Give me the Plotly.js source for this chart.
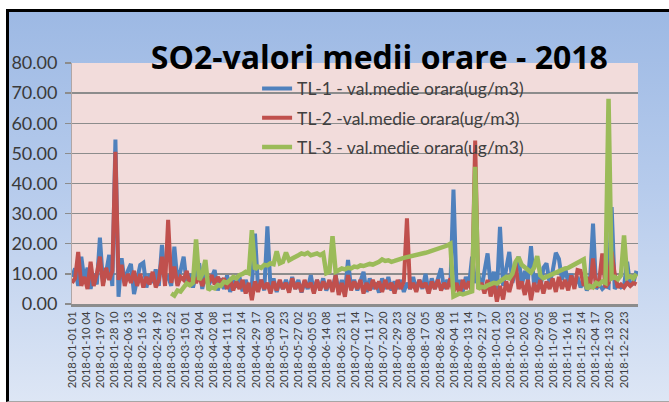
<!DOCTYPE html>
<html>
<head>
<meta charset="utf-8">
<script src="https://cdn.plot.ly/plotly-3.0.1.min.js"></script>
<style>
  html, body { margin: 0; padding: 0; background: #ffffff; }
  #wrap { position: relative; width: 669px; height: 402px; overflow: hidden; }
  #frame { position: absolute; left: 6px; top: 9px; width: 670px; height: 389px;
           border-left: 3px solid #000; border-top: 3px solid #000; border-bottom: 1px solid #a6a6a6;
           background: linear-gradient(to bottom, #9db9e4 0%, #b6cbec 45%, #dde6f5 100%); }
  #chart { position: absolute; left: 0; top: 0; width: 669px; height: 402px; }
</style>
</head>
<body>
<div id="wrap">
  <div id="frame"></div>
  <div id="chart"></div>
</div>
<script>
// x-axis tick labels (one every 219 hours)
const tickLabels = [
  "2018-01-01 01","2018-01-10 04","2018-01-19 07","2018-01-28 10","2018-02-06 13",
  "2018-02-15 16","2018-02-24 19","2018-03-05 22","2018-03-15 01","2018-03-24 04",
  "2018-04-02 08","2018-04-11 11","2018-04-20 14","2018-04-29 17","2018-05-08 20",
  "2018-05-17 23","2018-05-27 02","2018-06-05 05","2018-06-14 08","2018-06-23 11",
  "2018-07-02 14","2018-07-11 17","2018-07-20 20","2018-07-29 23","2018-08-08 02",
  "2018-08-17 05","2018-08-26 08","2018-09-04 11","2018-09-13 14","2018-09-22 17",
  "2018-10-01 20","2018-10-10 23","2018-10-20 02","2018-10-29 05","2018-11-07 08",
  "2018-11-16 11","2018-11-25 14","2018-12-04 17","2018-12-13 20","2018-12-22 23"
];
const seriesNames = [
  "TL-1 - val.medie orara(ug/m3)",
  "TL-2 -val.medie orara(ug/m3)",
  "TL-3 - val.medie orara(ug/m3)"
];
// values, one sample every 2 days (48 h)
const tl1 = [
  9,11.8,6,15.7,8,12,5,10,6.5,22,7,10.5,16.3,6,54.6,2.4,15.2,7,11,13.3,
  3.3,9,13,13.7,5.5,10,7,11.5,6,19.6,8,9,6,19,7.5,11,15.7,6.5,10,5.5,
  9,13.5,5,10,6,9,11.3,4.5,8.5,5,9.5,4,8,5.5,9,4.2,8,5,6,23.4,
  5,8,4.5,25.8,5.5,8.5,4,7.5,5,8,4.5,9,5,8,3.8,7.5,5,9.6,4,8,
  5,8.5,4.5,7,5,9.6,4,8,3.5,14.6,5,8,4.5,7.5,10.7,4,8.5,5,7,3.8,
  8.5,5,9,4.5,7.5,5,8,4,7,5,9,4.5,8,5,10,4,8.5,5,9,11.8,
  5,8,6,38,5,8,4,9,6,15.7,7,10,5,12,16.8,6,10.7,4,25.6,6,
  11,17.3,7,12,15.7,6,11,8,19.2,6,10,5,12,13.5,7,11,17,15,8,12,
  7,10,6,9,5.5,8,4.5,7,26.7,5,6.5,5,6,5.5,32.2,5,6.5,5.5,6,14,
  6,7,11
];
const tl2 = [
  7,8.5,17.3,6,9,5,14,6,10,15.7,6,12,8,11,50.5,8,13,6,10,7,
  11,6,10,5.5,9,6.5,10.7,5.5,8,15.7,6,27.9,7,12.4,6,9,8,11,6,9,
  7,9.5,6,8.5,7,9.6,6.5,9,7,8.5,5,8,4.5,7.5,5,8,3.5,7,1.3,7.5,
  4,8,5,7,3.5,7.5,4.5,8,5,7,3.8,8.5,5,7,4,8,5.5,7,3.5,8,
  4.5,7.5,5,8,4,9.6,3,7,2.4,9.6,4.5,7.5,5,8,3.5,7,4.5,8,5,7.5,
  4,8,5,7,3.5,8,5,7.5,28.4,5,7,4,8,5.5,7,3.5,7.5,5,8,4.5,
  7,5,8.5,4,7,3,8,5,7.5,4,54.3,5,7,3.5,8,2.5,7,0.8,6,1.5,
  7.5,4,8,13.5,5,7.5,3,8,1.3,7,4,8,3.5,7.5,5,8.5,4,9,5,8,
  4.5,9.5,5,11.3,11,6,9,5,15.1,5.5,8,16.8,5.5,7,17.3,9.9,5.5,6.5,5.5,7,
  6,7,6.5
];
const tl3 = [
  null,null,null,null,null,null,null,null,null,null,null,null,null,null,null,null,null,null,null,null,
  null,null,null,null,null,null,null,null,null,null,null,null,3.5,2.8,4.5,4.1,5.5,6.8,6.2,7.0,
  21.4,8,10,14.6,4.6,5.5,5.2,6.3,6.0,7.4,7.0,8.0,9.0,8.5,9.6,10,10.7,10.2,24.5,11.5,
  12.4,12.0,13,12.8,13.5,13.2,17.5,13.5,14,17.1,14.5,15.1,15.5,16.2,16.8,16.5,17,16.2,16.5,16.8,
  16.2,16.8,10.2,10.7,22.5,10.7,11.2,11.8,11.5,12,11.8,12.4,12.2,12.8,12.6,13,13.3,13.1,13.5,14,
  14.8,14.3,14.5,14,14.3,14.8,15,15.3,15.5,15.7,16,16.2,16.5,16.8,17,17.3,17.6,18,18.3,18.7,
  19,19.4,20,2.5,3,3.5,3.2,3.6,4,4.2,45.5,5,5.7,5.5,6.2,6.5,7,6.8,7.5,8,
  9,8.5,10,14,15.5,13,12,11,10.5,12,15.9,9.5,8.6,9,9.5,10,10.2,10.8,11.2,11.8,
  12,12.5,13,13.5,14,14.8,5,6,5.5,7,6.5,7.5,7,68.1,8.5,9,8.2,9.5,22.8,8.7,
  9.2,8.5,10
];
const colors = ["#4f81bd", "#c0504d", "#9bbb59"];
const widths = [4, 4, 4.5];

const hours = tl1.map((_, i) => i * 48);          // sample time in hours from 2018-01-01 01
const tickHours = tickLabels.map((_, i) => i * 219);

const traces = [tl1, tl2, tl3].map((ys, k) => ({
  x: hours, y: ys, type: "scatter", mode: "lines", name: seriesNames[k],
  line: { color: colors[k], width: widths[k] }, connectgaps: false,
  legendgroup: "g" + k
}));

const layout = {
  width: 669, height: 402,
  paper_bgcolor: "rgba(0,0,0,0)",
  plot_bgcolor: "#f2dcdb",
  margin: { l: 72, r: 31, t: 63, b: 98, pad: 0 },
  font: { family: "Lato, 'Open Sans', sans-serif", color: "#404040" },
  title: {
    text: "SO2-valori medii orare - 2018",
    font: { family: "'Open Sans', sans-serif", size: 32, color: "#000000", weight: "bold" },
    x: 0.567, xref: "container", xanchor: "center",
    y: 0.855, yref: "container", yanchor: "middle"
  },
  xaxis: {
    range: [0, 8760], tickmode: "array", tickvals: tickHours, ticktext: tickLabels,
    tickangle: -90, tickfont: { size: 11.3, color: "#404040" },
    showgrid: false, zeroline: false, ticks: "",
    showline: true, linecolor: "#8c8c8c", linewidth: 3
  },
  yaxis: {
    range: [0, 80], dtick: 10, tick0: 0, tickformat: ".2f",
    tickfont: { size: 18, color: "#3a3a3a" },
    showgrid: true, gridcolor: "#8c8c8c", gridwidth: 1.4, zeroline: false,
    ticks: "outside", ticklen: 6, tickcolor: "#8c8c8c", tickwidth: 1.4,
    ticklabelstandoff: 4,
    showline: true, linecolor: "#b0a6a6", linewidth: 1
  },
  showlegend: true,
  legend: {
    x: 0.327, y: 0.968, xanchor: "left", yanchor: "top",
    bgcolor: "rgba(0,0,0,0)", borderwidth: 0,
    font: { family: "Lato, sans-serif", size: 17.5, color: "#404040" },
    traceorder: "grouped", tracegroupgap: 3.5
  }
};

Plotly.newPlot("chart", traces, layout, { staticPlot: true, displayModeBar: false });
</script>
</body>
</html>
